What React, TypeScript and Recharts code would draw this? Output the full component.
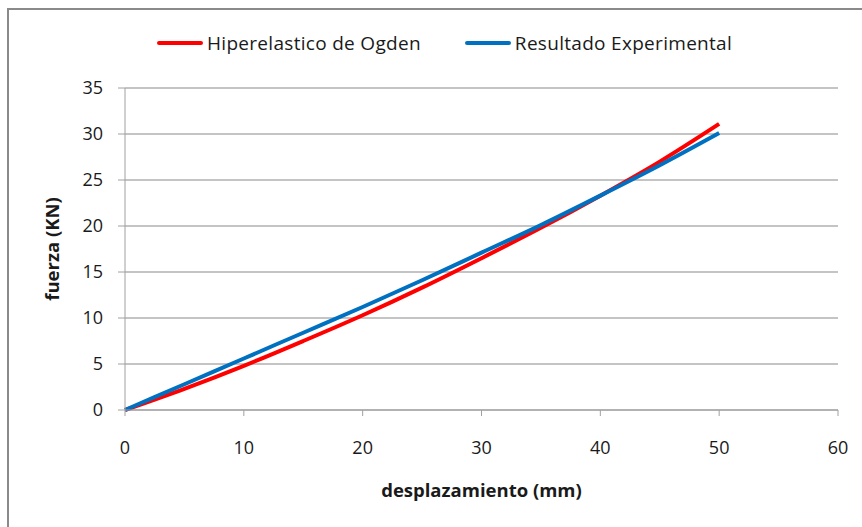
import React from "react";
import {
  CartesianGrid,
  Line,
  LineChart,
  XAxis,
  YAxis,
} from "recharts";

// desplazamiento (mm)
const desplazamiento = [0, 5, 10, 15, 20, 25, 30, 35, 40, 45, 50];
// fuerza (KN)
const ogden = [0, 2.3, 4.8, 7.5, 10.3, 13.3, 16.5, 19.8, 23.3, 27.0, 31.1];
const experimental = [0, 2.8, 5.6, 8.4, 11.2, 14.1, 17.1, 20.1, 23.3, 26.6, 30.1];

const xTicks = [0, 10, 20, 30, 40, 50, 60];
const yTicks = [0, 5, 10, 15, 20, 25, 30, 35];

const series = [
  { key: "ogden", name: "Hiperelastico de Ogden", color: "#ff0000" },
  { key: "experimental", name: "Resultado Experimental", color: "#0070c0" },
];

const data = desplazamiento.map((x, i) => ({
  x,
  ogden: ogden[i],
  experimental: experimental[i],
}));

const FONT = "'Open Sans', sans-serif";
const AXIS = "#a0a0a0";

function ChartLegend() {
  return (
    <div
      style={{
        position: "absolute",
        left: 157,
        top: 30,
        display: "flex",
        alignItems: "center",
        fontFamily: FONT,
        fontSize: 19,
        letterSpacing: 0.3,
        color: "#1a1a1a",
        whiteSpace: "nowrap",
      }}
    >
      {series.map((s, i) => (
        <div key={s.key} style={{ display: "flex", alignItems: "center", marginLeft: i === 0 ? 0 : 44 }}>
          <div style={{ width: 46, height: 4, background: s.color, borderRadius: 2, marginRight: 4 }} />
          <span>{s.name}</span>
        </div>
      ))}
    </div>
  );
}

export default function App() {
  return (
    <div style={{ position: "absolute", left: 0, top: 0, width: 862, height: 527, background: "#fff", overflow: "hidden" }}>
      <div
        style={{
          position: "absolute",
          left: 7,
          top: 8,
          width: 900,
          height: 600,
          borderLeft: "2px solid #8a8a8a",
          borderTop: "2px solid #8a8a8a",
        }}
      />
      <LineChart
        width={862}
        height={527}
        data={data}
        margin={{ top: 88, right: 24, bottom: 0, left: -21 }}
        style={{ position: "absolute", left: 0, top: 0 }}
      >
        <CartesianGrid vertical={false} stroke="#b0b0b0" strokeWidth={1.3} />
        <XAxis
          dataKey="x"
          type="number"
          domain={[0, 60]}
          ticks={xTicks}
          height={117}
          stroke={AXIS}
          tickSize={6}
          tickMargin={25}
          tick={{ fontSize: 18, fill: "#1a1a1a", fontFamily: FONT }}
          label={{
            value: "desplazamiento (mm)",
            position: "insideBottom",
            offset: 30,
            style: { fontSize: 18.5, fontWeight: 700, fill: "#1a1a1a", fontFamily: FONT },
          }}
        />
        <YAxis
          type="number"
          domain={[0, 35]}
          ticks={yTicks}
          width={146}
          stroke={AXIS}
          tickSize={7}
          tickMargin={15}
          tick={{ fontSize: 18, fill: "#1a1a1a", fontFamily: FONT }}
          label={{
            value: "fuerza (KN)",
            angle: -90,
            position: "center",
            style: { fontSize: 18.5, fontWeight: 700, fill: "#1a1a1a", fontFamily: FONT },
          }}
        />
        {series.map((s) => (
          <Line
            key={s.key}
            dataKey={s.key}
            name={s.name}
            stroke={s.color}
            strokeWidth={4}
            type="monotone"
            dot={false}
            isAnimationActive={false}
          />
        ))}
      </LineChart>
      <ChartLegend />
    </div>
  );
}
